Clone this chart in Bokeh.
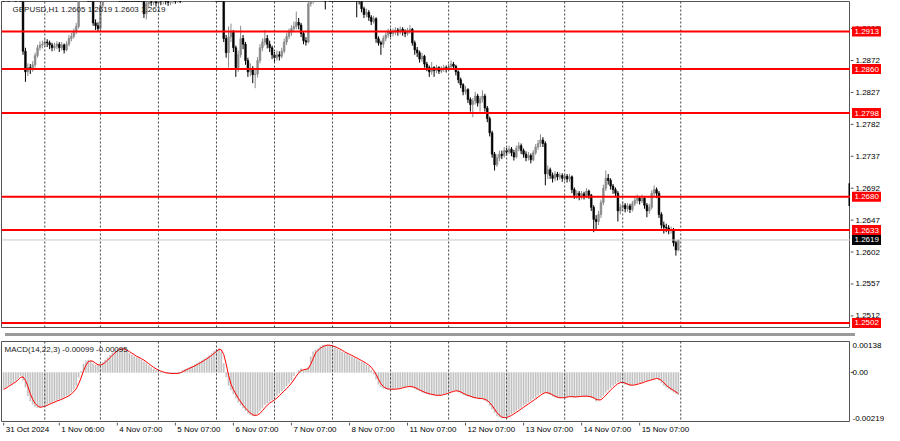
import numpy as np
from bokeh.plotting import figure
from bokeh.models import ColumnDataSource, Span, Label, Range1d, Div
from bokeh.layouts import column, row
from bokeh.embed import file_html
from bokeh.resources import INLINE
from bokeh.core.properties import value

FONT = "Liberation Sans"

symbol_title = "GBPUSD,H1  1.2605 1.2619 1.2603 1.2619"
macd_title = "MACD(14,22,3) -0.00099 -0.00095"

first_open = 1.2975
close = [
    1.2972, 1.2978, 1.2974, 1.2980, 1.2983, 1.2979, 1.2982, 1.2978, 1.2885, 1.2856,
    1.2862, 1.2860, 1.2866, 1.2879, 1.2890, 1.2894, 1.2895, 1.2898, 1.2897, 1.2894,
    1.2890, 1.2892, 1.2895, 1.2890, 1.2894, 1.2887, 1.2895, 1.2903, 1.2906, 1.2913,
    1.2920, 1.2965, 1.2975, 1.2985, 1.2990, 1.2980, 1.2968, 1.2925, 1.2921, 1.2917,
    1.2950, 1.2965, 1.2975, 1.2985, 1.2995, 1.3005, 1.3010, 1.3012, 1.3008, 1.3005,
    1.3000, 1.2998, 1.2995, 1.2990, 1.2985, 1.2982, 1.2978, 1.2972, 1.2938, 1.2952,
    1.2955, 1.2954, 1.2956, 1.2953, 1.2957, 1.2955, 1.2958, 1.2956, 1.2954, 1.2957,
    1.2959, 1.2957, 1.2960, 1.2958, 1.2962, 1.2968, 1.2975, 1.2982, 1.2990, 1.2995,
    1.3002, 1.3008, 1.3012, 1.3018, 1.3022, 1.3025, 1.3028, 1.3030, 1.3025, 1.3010,
    1.2975, 1.2903, 1.2883, 1.2905, 1.2912, 1.2890, 1.2862, 1.2880, 1.2903, 1.2895,
    1.2872, 1.2856, 1.2860, 1.2852, 1.2853, 1.2872, 1.2890, 1.2898, 1.2903, 1.2895,
    1.2890, 1.2880, 1.2876, 1.2880, 1.2878, 1.2885, 1.2898, 1.2906, 1.2912, 1.2917,
    1.2920, 1.2926, 1.2922, 1.2910, 1.2900, 1.2898, 1.2952, 1.2958, 1.2962, 1.2970,
    1.2985, 1.2995, 1.3005, 1.2985, 1.3008, 1.3005, 1.3000, 1.2998, 1.2995, 1.2990,
    1.2988, 1.2985, 1.2980, 1.2975, 1.2972, 1.2968, 1.2962, 1.2958, 1.2945, 1.2937,
    1.2940, 1.2933, 1.2927, 1.2931, 1.2903, 1.2897, 1.2895, 1.2903, 1.2908, 1.2913,
    1.2910, 1.2912, 1.2915, 1.2913, 1.2916, 1.2913, 1.2910, 1.2914, 1.2916, 1.2897,
    1.2887, 1.2883, 1.2874, 1.2878, 1.2867, 1.2862, 1.2856, 1.2862, 1.2858, 1.2862,
    1.2857, 1.2860, 1.2862, 1.2860, 1.2863, 1.2867, 1.2864, 1.2856, 1.2845, 1.2838,
    1.2828, 1.2831, 1.2817, 1.2810, 1.2815, 1.2822, 1.2812, 1.2818, 1.2822, 1.2805,
    1.2790, 1.2770, 1.2740, 1.2725, 1.2735, 1.2740, 1.2738, 1.2745, 1.2743, 1.2747,
    1.2742, 1.2736, 1.2748, 1.2752, 1.2745, 1.2740, 1.2735, 1.2738, 1.2732, 1.2742,
    1.2750, 1.2755, 1.2760, 1.2755, 1.2712, 1.2718, 1.2710, 1.2706, 1.2712, 1.2708,
    1.2710, 1.2706, 1.2709, 1.2705, 1.2708, 1.2690, 1.2682, 1.2685, 1.2680, 1.2684,
    1.2681, 1.2688, 1.2682, 1.2665, 1.2648, 1.2645, 1.2655, 1.2672, 1.2692, 1.2706,
    1.2703, 1.2695, 1.2690, 1.2685, 1.2660, 1.2665, 1.2668, 1.2663, 1.2667, 1.2662,
    1.2670, 1.2675, 1.2678, 1.2674, 1.2678, 1.2668, 1.2660, 1.2665, 1.2685, 1.2690,
    1.2685, 1.2655, 1.2640, 1.2637, 1.2636, 1.2632, 1.2634, 1.2615, 1.2605, 1.2619,
]
high = [
    1.2980, 1.2984, 1.2982, 1.2986, 1.2990, 1.2987, 1.2988, 1.2985, 1.2982, 1.2890,
    1.2868, 1.2867, 1.2871, 1.2883, 1.2894, 1.2899, 1.2900, 1.2903, 1.2902, 1.2900,
    1.2897, 1.2897, 1.2899, 1.2898, 1.2898, 1.2896, 1.2899, 1.2908, 1.2911, 1.2917,
    1.2925, 1.2972, 1.2982, 1.2992, 1.2996, 1.2994, 1.2985, 1.2972, 1.2930, 1.2926,
    1.2956, 1.2970, 1.2980, 1.2990, 1.3000, 1.3010, 1.3016, 1.3019, 1.3017, 1.3012,
    1.3009, 1.3005, 1.3003, 1.2999, 1.2994, 1.2990, 1.2987, 1.2982, 1.2975, 1.2957,
    1.2961, 1.2960, 1.2961, 1.2960, 1.2962, 1.2961, 1.2963, 1.2962, 1.2960, 1.2962,
    1.2964, 1.2963, 1.2965, 1.2964, 1.2967, 1.2973, 1.2980, 1.2987, 1.2995, 1.3001,
    1.3007, 1.3013, 1.3018, 1.3023, 1.3028, 1.3031, 1.3034, 1.3037, 1.3036, 1.3028,
    1.3014, 1.2978, 1.2908, 1.2920, 1.2924, 1.2915, 1.2893, 1.2886, 1.2921, 1.2908,
    1.2898, 1.2876, 1.2868, 1.2864, 1.2860, 1.2877, 1.2895, 1.2903, 1.2915, 1.2908,
    1.2900, 1.2893, 1.2884, 1.2886, 1.2885, 1.2890, 1.2903, 1.2911, 1.2917, 1.2922,
    1.2927, 1.2941, 1.2932, 1.2925, 1.2913, 1.2905, 1.2958, 1.2964, 1.2968, 1.2976,
    1.2990, 1.3001, 1.3011, 1.3012, 1.3014, 1.3012, 1.3009, 1.3005, 1.3003, 1.2999,
    1.2995, 1.2992, 1.2989, 1.2984, 1.2979, 1.2976, 1.2971, 1.2966, 1.2961, 1.2948,
    1.2945, 1.2943, 1.2936, 1.2935, 1.2933, 1.2906, 1.2900, 1.2907, 1.2912, 1.2917,
    1.2917, 1.2917, 1.2919, 1.2918, 1.2920, 1.2919, 1.2916, 1.2918, 1.2922, 1.2918,
    1.2900, 1.2891, 1.2886, 1.2883, 1.2880, 1.2870, 1.2865, 1.2870, 1.2864, 1.2866,
    1.2864, 1.2864, 1.2866, 1.2865, 1.2867, 1.2872, 1.2870, 1.2866, 1.2858, 1.2848,
    1.2840, 1.2836, 1.2833, 1.2820, 1.2819, 1.2828, 1.2825, 1.2822, 1.2830, 1.2825,
    1.2808, 1.2793, 1.2773, 1.2743, 1.2740, 1.2745, 1.2745, 1.2750, 1.2749, 1.2752,
    1.2750, 1.2746, 1.2752, 1.2757, 1.2755, 1.2748, 1.2744, 1.2743, 1.2741, 1.2746,
    1.2754, 1.2760, 1.2768, 1.2764, 1.2758, 1.2724, 1.2721, 1.2714, 1.2716, 1.2715,
    1.2714, 1.2713, 1.2713, 1.2712, 1.2712, 1.2710, 1.2693, 1.2689, 1.2688, 1.2688,
    1.2687, 1.2692, 1.2690, 1.2684, 1.2668, 1.2654, 1.2660, 1.2676, 1.2697, 1.2717,
    1.2712, 1.2706, 1.2698, 1.2693, 1.2688, 1.2670, 1.2673, 1.2671, 1.2671, 1.2670,
    1.2674, 1.2680, 1.2683, 1.2681, 1.2683, 1.2680, 1.2671, 1.2670, 1.2689, 1.2696,
    1.2693, 1.2688, 1.2658, 1.2645, 1.2642, 1.2640, 1.2638, 1.2636, 1.2618, 1.2619,
]
low = [
    1.2966, 1.2969, 1.2968, 1.2971, 1.2976, 1.2973, 1.2975, 1.2972, 1.2880, 1.2842,
    1.2850, 1.2853, 1.2856, 1.2862, 1.2876, 1.2886, 1.2889, 1.2891, 1.2891, 1.2888,
    1.2885, 1.2886, 1.2888, 1.2884, 1.2886, 1.2882, 1.2885, 1.2892, 1.2899, 1.2903,
    1.2909, 1.2917, 1.2960, 1.2970, 1.2979, 1.2975, 1.2962, 1.2921, 1.2915, 1.2913,
    1.2914, 1.2946, 1.2960, 1.2970, 1.2980, 1.2990, 1.3000, 1.3004, 1.3002, 1.2998,
    1.2994, 1.2991, 1.2988, 1.2984, 1.2979, 1.2976, 1.2972, 1.2966, 1.2932, 1.2930,
    1.2946, 1.2949, 1.2950, 1.2948, 1.2950, 1.2950, 1.2951, 1.2951, 1.2949, 1.2950,
    1.2952, 1.2952, 1.2953, 1.2953, 1.2954, 1.2958, 1.2964, 1.2971, 1.2978, 1.2986,
    1.2991, 1.2998, 1.3004, 1.3008, 1.3013, 1.3017, 1.3020, 1.3022, 1.3019, 1.3004,
    1.2968, 1.2898, 1.2876, 1.2862, 1.2898, 1.2884, 1.2849, 1.2856, 1.2876, 1.2888,
    1.2866, 1.2849, 1.2850, 1.2840, 1.2833, 1.2848, 1.2868, 1.2885, 1.2893, 1.2889,
    1.2884, 1.2874, 1.2870, 1.2872, 1.2872, 1.2875, 1.2882, 1.2894, 1.2902, 1.2907,
    1.2912, 1.2916, 1.2916, 1.2905, 1.2895, 1.2893, 1.2896, 1.2948, 1.2952, 1.2958,
    1.2966, 1.2980, 1.2990, 1.2944, 1.2982, 1.2998, 1.2994, 1.2991, 1.2988, 1.2984,
    1.2982, 1.2978, 1.2974, 1.2969, 1.2966, 1.2962, 1.2933, 1.2951, 1.2940, 1.2932,
    1.2933, 1.2928, 1.2922, 1.2924, 1.2897, 1.2893, 1.2880, 1.2890, 1.2899, 1.2904,
    1.2905, 1.2906, 1.2908, 1.2907, 1.2909, 1.2907, 1.2905, 1.2907, 1.2910, 1.2893,
    1.2880, 1.2877, 1.2869, 1.2870, 1.2862, 1.2857, 1.2849, 1.2852, 1.2849, 1.2854,
    1.2853, 1.2854, 1.2856, 1.2855, 1.2857, 1.2860, 1.2859, 1.2851, 1.2840, 1.2833,
    1.2823, 1.2824, 1.2812, 1.2800, 1.2792, 1.2810, 1.2807, 1.2800, 1.2813, 1.2800,
    1.2785, 1.2765, 1.2735, 1.2717, 1.2722, 1.2730, 1.2733, 1.2735, 1.2738, 1.2740,
    1.2737, 1.2731, 1.2734, 1.2744, 1.2740, 1.2735, 1.2730, 1.2731, 1.2727, 1.2730,
    1.2739, 1.2746, 1.2750, 1.2750, 1.2696, 1.2705, 1.2705, 1.2700, 1.2702, 1.2703,
    1.2704, 1.2701, 1.2702, 1.2700, 1.2701, 1.2685, 1.2677, 1.2677, 1.2675, 1.2676,
    1.2676, 1.2678, 1.2677, 1.2660, 1.2630, 1.2632, 1.2640, 1.2650, 1.2668, 1.2688,
    1.2697, 1.2690, 1.2684, 1.2680, 1.2645, 1.2655, 1.2660, 1.2658, 1.2659, 1.2657,
    1.2659, 1.2667, 1.2670, 1.2669, 1.2671, 1.2663, 1.2651, 1.2656, 1.2662, 1.2680,
    1.2678, 1.2650, 1.2635, 1.2628, 1.2630, 1.2627, 1.2628, 1.2610, 1.2597, 1.2603,
]
# MACD main (histogram) and signal, in units of 1e-5
macd_main_e5 = [
    -73, -66, -58, -52, -45, -36, -26, -14, -35, -66,
    -105, -128, -142, -152, -158, -156, -152, -148, -142, -138,
    -133, -129, -124, -120, -116, -111, -104, -97, -88, -75,
    -58, -22, 5, 38, 52, 56, 50, 40, 33, 30,
    36, 45, 55, 66, 78, 88, 97, 104, 108, 105,
    100, 93, 86, 78, 72, 67, 62, 55, 47, 40,
    31, 22, 15, 10, 6, 2, -1, -3, -4, -5,
    -5, -4, -3, 2, 10, 14, 19, 24, 28, 35,
    41, 47, 54, 61, 67, 76, 85, 94, 103, 108,
    93, 40, -20, -58, -78, -96, -115, -133, -146, -159,
    -171, -183, -189, -194, -194, -183, -171, -158, -144, -137,
    -130, -123, -116, -103, -93, -83, -73, -61, -48, -35,
    -15, 0, 10, 17, 10, 15, 25, 70, 92, 100,
    106, 117, 122, 122, 122, 119, 115, 111, 105, 99,
    92, 86, 81, 76, 70, 65, 59, 53, 47, 41,
    33, 26, 10, -8, -30, -53, -65, -72, -74, -75,
    -75, -75, -74, -72, -69, -66, -64, -63, -63, -66,
    -72, -78, -83, -88, -92, -96, -98, -100, -102, -103,
    -102, -100, -96, -93, -88, -84, -82, -81, -87, -93,
    -99, -103, -106, -110, -114, -115, -115, -117, -118, -125,
    -133, -148, -164, -180, -194, -200, -204, -201, -198, -192,
    -186, -178, -171, -163, -156, -148, -141, -133, -126, -118,
    -111, -102, -93, -90, -88, -94, -100, -106, -111, -113,
    -114, -112, -111, -108, -106, -109, -111, -108, -106, -106,
    -106, -107, -108, -113, -118, -129, -123, -113, -103, -90,
    -78, -68, -58, -50, -43, -44, -46, -53, -56, -58,
    -56, -53, -50, -47, -43, -39, -35, -33, -31, -27,
    -24, -35, -46, -58, -66, -73, -80, -88, -94, -99,
]
macd_signal_e5 = [
    -76, -70, -63, -56, -49, -42, -33, -22, -20, -35,
    -62, -95, -120, -138, -149, -155, -154, -151, -147, -142,
    -137, -133, -128, -124, -120, -115, -110, -104, -96, -86,
    -73, -51, -25, 7, 32, 48, 52, 49, 41, 34,
    33, 37, 45, 55, 66, 77, 87, 96, 103, 105,
    104, 99, 93, 86, 79, 72, 67, 61, 55, 47,
    39, 31, 23, 16, 10, 6, 2, -1, -3, -4,
    -5, -5, -4, -2, 3, 9, 14, 19, 24, 29,
    35, 41, 47, 54, 61, 68, 76, 85, 94, 102,
    101, 80, 38, -13, -52, -77, -96, -115, -131, -146,
    -159, -171, -181, -189, -192, -190, -183, -171, -158, -146,
    -137, -130, -123, -114, -104, -93, -83, -72, -61, -48,
    -33, -17, -2, 9, 12, 14, 17, 37, 62, 87,
    99, 108, 115, 120, 122, 121, 119, 115, 110, 105,
    99, 92, 86, 81, 76, 70, 65, 59, 53, 47,
    40, 33, 23, 9, -9, -30, -50, -63, -70, -74,
    -75, -75, -75, -74, -72, -69, -66, -64, -63, -64,
    -67, -72, -78, -83, -88, -92, -95, -98, -100, -102,
    -102, -102, -99, -96, -92, -88, -85, -82, -83, -87,
    -93, -98, -103, -106, -110, -113, -115, -116, -117, -120,
    -125, -135, -148, -164, -179, -191, -199, -202, -201, -197,
    -192, -185, -178, -171, -163, -156, -148, -141, -133, -126,
    -118, -110, -102, -95, -90, -91, -94, -100, -106, -110,
    -113, -113, -112, -110, -108, -108, -109, -109, -108, -107,
    -106, -106, -107, -109, -113, -120, -123, -122, -113, -102,
    -90, -79, -68, -59, -50, -46, -44, -48, -52, -56,
    -57, -56, -53, -50, -47, -43, -39, -36, -33, -30,
    -27, -29, -35, -46, -57, -66, -73, -80, -87, -95,
]

levels = [1.2913, 1.2860, 1.2798, 1.2680, 1.2633, 1.2502]
last_price = 1.2619
shift_marker_prices = [1.2667, 1.2699]
price_ticks = [1.2917, 1.2872, 1.2827, 1.2782, 1.2737, 1.2692, 1.2647, 1.2602, 1.2557, 1.2512]
price_view = [1.24942, 1.29552]
macd_view = [-0.00219, 0.00138]
macd_scale_values = [0.00138, 0.0, -0.00219]
macd_scale_labels = ["0.00138", "0.00", "-0.00219"]
time_tick_bars = [0, 23, 47, 71, 95, 119, 143, 167, 191, 215, 239, 263]
time_tick_labels = ["31 Oct 2024", "1 Nov 06:00", "4 Nov 07:00", "5 Nov 07:00",
                    "6 Nov 07:00", "7 Nov 07:00", "8 Nov 07:00", "11 Nov 07:00",
                    "12 Nov 07:00", "13 Nov 07:00", "14 Nov 07:00", "15 Nov 07:00"]
grid_bars = [17, 40, 64, 88, 112, 136, 160, 184, 208, 232, 256, 280]
bars_in_view = [-0.9, 350.2]

# ---- derived series ----
n = len(close)
bar = np.arange(n)
op = np.array([first_open] + close[:-1])
cl = np.array(close)
hi = np.maximum(np.array(high), np.maximum(op, cl))
lo = np.minimum(np.array(low), np.minimum(op, cl))
bull = cl >= op
col = np.where(bull, "#8a8a8a", "#000000")
src = ColumnDataSource(dict(x=bar, top=np.maximum(op, cl), bottom=np.minimum(op, cl),
                            hi=hi, lo=lo, color=col))
macd_main = np.array(macd_main_e5) * 1e-5
macd_signal = np.array(macd_signal_e5) * 1e-5

X0, X1 = bars_in_view
FRAME = "#555555"
PW = 850      # width of chart panels
AW = 34       # width of the price scale strip
H_MAIN = 328
H_MACD = 81
H_TIME = 13
FS = "8px"


def base_fig(width, height, x_range, y_range, top=0, bottom=0, left=0, outline=True):
    f = figure(width=width, height=height, x_range=x_range, y_range=y_range,
               output_backend="svg", toolbar_location=None,
               x_axis_location=None, y_axis_location=None,
               min_border_left=left, min_border_right=0, min_border_top=top,
               min_border_bottom=bottom,
               outline_line_color=FRAME if outline else None, outline_line_width=1,
               background_fill_color="white", border_fill_color="white")
    f.grid.visible = False
    return f


# ---- main price panel ----
xr = Range1d(X0, X1)
yr = Range1d(*price_view)
p = base_fig(PW, H_MAIN, xr, yr, top=1, left=1)

for b in grid_bars:
    p.add_layout(Span(location=b, dimension="height", line_color="#404040",
                      line_width=1, line_dash="2 2"))
p.add_layout(Span(location=last_price, dimension="width", line_color="#c8c8c8", line_width=1))
for lv in levels:
    p.add_layout(Span(location=lv, dimension="width", line_color="#ff0000", line_width=2))

p.segment(x0="x", y0="lo", x1="x", y1="hi", color="color", line_width=1, source=src)
p.vbar(x="x", width=0.7, top="top", bottom="bottom", fill_color="color",
       line_color="color", line_width=0.6, source=src)
p.segment(x0=[X1], y0=[shift_marker_prices[0]], x1=[X1], y1=[shift_marker_prices[1]],
          line_color="#000000", line_width=4)

p.add_layout(Label(x=X0, y=price_view[1], x_offset=11, y_offset=-3, text=symbol_title,
                   text_font=FONT, text_font_size=FS, text_color="#202020",
                   text_align="left", text_baseline="top"))

# ---- price scale strip ----
ps = base_fig(AW, H_MAIN, Range1d(0, AW), yr, top=1, outline=False)
ps.segment(x0=[0] * len(price_ticks), y0=price_ticks, x1=[3] * len(price_ticks),
           y1=price_ticks, line_color=FRAME, line_width=1)
ps.text(x=[5] * len(price_ticks), y=price_ticks, text=[f"{t:.4f}" for t in price_ticks],
        text_font=value(FONT), text_font_size=FS, text_color="#000000",
        text_align="left", text_baseline="middle")
ps.rect(x=[16] * len(levels), y=levels, width=29, height=10, width_units="screen",
        height_units="screen", fill_color="#ff0000", line_color=None)
ps.text(x=[4] * len(levels), y=levels, text=[f"{lv:.4f}" for lv in levels],
        text_font=value(FONT), text_font_size=FS, text_color="#ffffff",
        text_align="left", text_baseline="middle")
ps.rect(x=[16], y=[last_price], width=29, height=10, width_units="screen",
        height_units="screen", fill_color="#000000", line_color=None)
ps.text(x=[4], y=[last_price], text=[f"{last_price:.4f}"],
        text_font=value(FONT), text_font_size=FS, text_color="#ffffff",
        text_align="left", text_baseline="middle")

sep = Div(width=PW, height=3, styles={"background-color": "#9a9a9a"})
sep_r = Div(width=AW, height=3)

# ---- MACD panel ----
myr = Range1d(*macd_view)
m = base_fig(PW, H_MACD, xr, myr, top=0, bottom=1, left=1)
for b in grid_bars:
    m.add_layout(Span(location=b, dimension="height", line_color="#404040",
                      line_width=1, line_dash="2 2"))
m.vbar(x=bar, top=macd_main, bottom=0, width=0.5, fill_color="#c0c0c0",
       line_color="#c0c0c0", line_width=0.4)
m.line(bar, macd_signal, line_color="#ff0000", line_width=1)
m.add_layout(Label(x=X0, y=macd_view[1], x_offset=3, y_offset=-3, text=macd_title,
                   text_font=FONT, text_font_size=FS, text_color="#202020",
                   text_align="left", text_baseline="top"))

ms = base_fig(AW, H_MACD, Range1d(0, AW), myr, top=0, bottom=1, outline=False)
ms.segment(x0=[0], y0=[0.0], x1=[3], y1=[0.0], line_color=FRAME, line_width=1)
ms.text(x=[2, 2, 2], y=macd_scale_values, text=macd_scale_labels,
        text_font=value(FONT), text_font_size=FS, text_color="#000000",
        text_align="left", text_baseline=["top", "middle", "bottom"],
        y_offset=[1, 0, -1])

# ---- time scale strip ----
ts = base_fig(PW + AW, H_TIME, xr, Range1d(0, 1), left=1, outline=False)
ts.min_border_right = AW
ts.segment(x0=time_tick_bars, y0=[1] * len(time_tick_bars), x1=time_tick_bars,
           y1=[0.77] * len(time_tick_bars), line_color=FRAME, line_width=1)
ts.text(x=time_tick_bars, y=[1] * len(time_tick_bars), text=time_tick_labels,
        text_font=value(FONT), text_font_size=FS, text_color="#000000",
        text_align="left", text_baseline="top", x_offset=2, y_offset=2)

layout = column(row(p, ps), row(sep, sep_r), row(m, ms), ts)
open("out.html", "w").write(file_html(layout, INLINE))
